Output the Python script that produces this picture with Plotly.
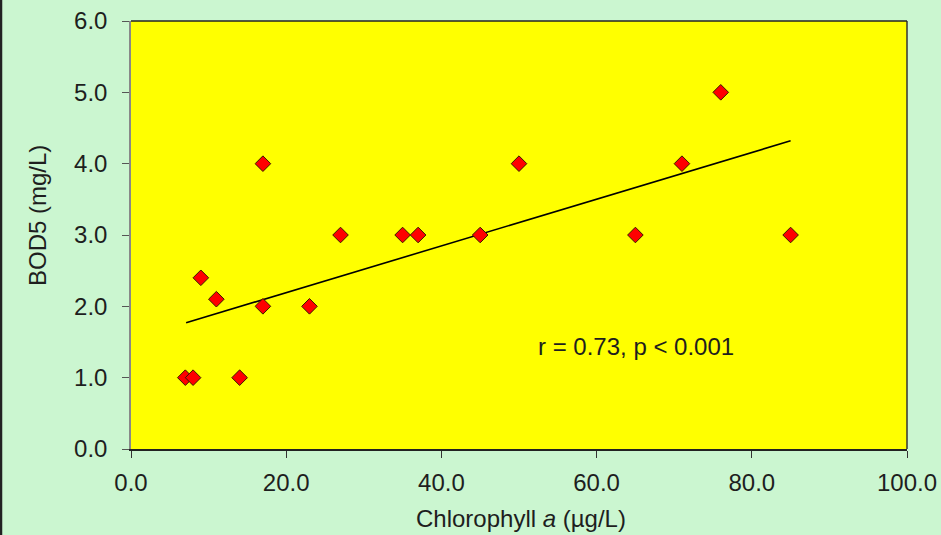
import plotly.graph_objects as go

# Data
chl_a = [7, 8, 14, 9, 11, 17, 17, 23, 27, 35, 37, 45, 50, 65, 71, 76, 85]
bod5 = [1.0, 1.0, 1.0, 2.4, 2.1, 4.0, 2.0, 2.0, 3.0, 3.0, 3.0, 3.0, 4.0, 3.0, 4.0, 5.0, 3.0]

trend_x = [7.1, 85.0]
trend_y = [1.77, 4.32]

x_ticks = [0, 20, 40, 60, 80, 100]
x_tick_labels = ["0.0", "20.0", "40.0", "60.0", "80.0", "100.0"]
y_ticks = [0, 1, 2, 3, 4, 5, 6]
y_tick_labels = ["0.0", "1.0", "2.0", "3.0", "4.0", "5.0", "6.0"]

stat_text = "r = 0.73, p < 0.001"

FONT = "Liberation Sans, Arial, sans-serif"
TXT = "#1e1e1e"

fig = go.Figure()
fig.add_trace(go.Scatter(
    x=trend_x, y=trend_y, mode="lines",
    line=dict(color="#000000", width=1.6),
    showlegend=False, hoverinfo="skip"))
fig.add_trace(go.Scatter(
    x=chl_a, y=bod5, mode="markers",
    marker=dict(symbol="diamond", size=12, color="#ff0000",
                line=dict(color="#3a1a00", width=1)),
    showlegend=False))

fig.add_annotation(x=52.2, y=1.43, xref="x", yref="y", text=stat_text,
                   showarrow=False, xanchor="left", yanchor="middle",
                   font=dict(family=FONT, size=24, color=TXT))

# axis titles as annotations for precise placement
L, R, T, B = 131, 34, 21, 86
W, H = 941, 535
pw = W - L - R
ph = H - T - B
fig.add_annotation(x=(521 - L) / pw, y=-(518 - (H - B)) / ph, xref="paper", yref="paper",
                   text="Chlorophyll <i>a</i> (µg/L)", showarrow=False,
                   xanchor="center", yanchor="middle",
                   font=dict(family=FONT, size=24, color=TXT))
fig.add_annotation(x=-(L - 37) / pw, y=((H - B) - 216) / ph, xref="paper", yref="paper",
                   text="BOD5 (mg/L)", showarrow=False, textangle=-90,
                   xanchor="center", yanchor="middle",
                   font=dict(family=FONT, size=24, color=TXT))

# right border of plot area and left figure edge line
fig.add_shape(type="line", xref="paper", yref="paper", x0=1, x1=1, y0=0, y1=1,
              line=dict(color="#333333", width=1.5))
fig.add_shape(type="line", xref="paper", yref="paper",
              x0=-(L - 1) / pw, x1=-(L - 1) / pw, y0=-B / ph, y1=(ph + T) / ph,
              line=dict(color="#222222", width=2.5))

fig.update_xaxes(range=[0, 100], tickvals=x_ticks, ticktext=x_tick_labels,
                 showgrid=False, zeroline=False, showline=True, linecolor="#222222",
                 linewidth=1.5, ticks="outside", ticklen=7, tickcolor="#333333",
                 tickfont=dict(family=FONT, size=24, color=TXT), ticklabelstandoff=4,
                 automargin=False)
fig.update_yaxes(range=[0, 6], tickvals=y_ticks, ticktext=y_tick_labels,
                 showgrid=False, zeroline=False, showline=True, linecolor="#888888",
                 linewidth=1.5, ticks="outside", ticklen=7, tickcolor="#555555",
                 tickfont=dict(family=FONT, size=24, color=TXT), ticklabelstandoff=10,
                 automargin=False)

fig.add_shape(type="line", xref="paper", yref="paper", x0=0, x1=1, y0=1, y1=1,
              line=dict(color="#222222", width=1.5))

fig.update_layout(
    width=W, height=H,
    margin=dict(l=L, r=R, t=T, b=B),
    paper_bgcolor="#cbf6d0",
    plot_bgcolor="#ffff00",
    font=dict(family=FONT, size=24, color=TXT),
)

fig.write_html(
    "out.html",
    config={"displayModeBar": False},
    post_script="document.body.style.margin='0';document.body.style.overflow='hidden';",
)
